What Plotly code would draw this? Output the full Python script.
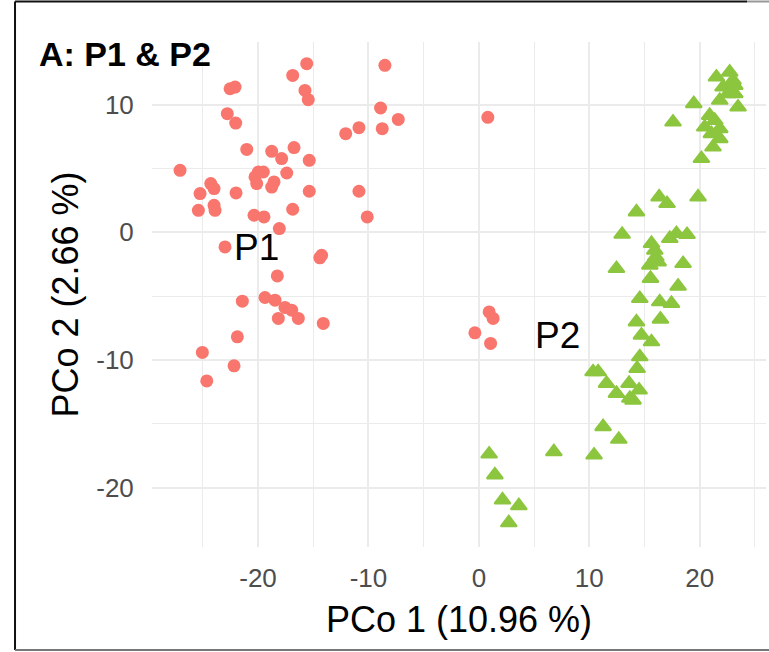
import plotly.graph_objects as go

# ---- data ----
p1_x = [-15.59, -16.86, -8.51, -22.53, -22.08, -15.75, -15.45, -22.78, -22.02, -8.90,
        -7.30, -8.75, -10.86, -12.06, -21.02, -18.76, -16.74, -17.86, -15.36, -27.06,
        -19.97, -20.27, -19.52, -17.40, -18.55, -18.76, -20.12, -24.28, -23.98, -25.25,
        -21.99, -15.36, -10.86, -25.40, -23.98, -23.89, -16.86, -20.36, -19.46, -10.11,
        -18.07, -22.99, -14.24, -14.40, -18.25, -21.42, -19.37, -18.46, -17.56, -16.95,
        -18.16, -16.35, -14.09, -21.87, -25.04, -22.17, -24.64, 0.93, 1.29, -0.36,
        1.06, 0.81]
p1_y = [13.20, 12.28, 13.07, 11.24, 11.37, 11.11, 10.38, 9.29, 8.55, 9.73,
        8.84, 8.11, 8.19, 7.72, 6.49, 6.34, 6.63, 5.77, 5.63, 4.85,
        4.72, 4.33, 4.72, 4.64, 3.94, 3.54, 3.81, 3.81, 3.42, 3.03,
        3.08, 3.21, 3.21, 1.72, 2.11, 1.72, 1.80, 1.33, 1.20, 1.20,
        0.29, -1.15, -1.80, -2.00, -3.42, -5.40, -5.11, -5.32, -5.89, -6.10,
        -6.75, -6.75, -7.14, -8.19, -9.41, -10.46, -11.64, -6.24, -6.75, -7.88,
        -8.71, 9.00]

p2_x = [0.93, 1.45, 2.14, 3.62, 2.71, 6.79, 10.43, 11.25, 12.67, 10.34,
        10.80, 11.56, 12.46, 13.67, 13.96, 13.60, 14.51, 14.33, 14.57, 14.72,
        15.63, 14.27, 16.44, 14.57, 16.38, 17.44, 18.04, 15.54, 12.46, 15.48,
        16.23, 18.49, 16.02, 15.93, 15.63, 17.29, 17.89, 18.85, 12.97, 14.27,
        16.32, 17.04, 19.85, 20.15, 21.20, 21.81, 21.06, 20.45, 21.81, 21.36,
        20.90, 17.58, 19.46, 21.81, 23.47, 22.56, 23.17, 22.11, 21.51, 22.71,
        23.01, 23.17]
p2_y = [-17.37, -19.01, -20.97, -21.42, -22.75, -17.19, -17.45, -15.23, -16.22, -10.93,
        -10.93, -11.84, -12.62, -13.01, -13.15, -11.84, -12.36, -10.67, -9.76, -8.06,
        -8.58, -7.02, -6.81, -5.19, -5.45, -5.58, -4.23, -3.62, -2.84, -2.58,
        -2.32, -2.45, -1.93, -1.41, -0.88, -0.49, -0.10, -0.18, -0.16, 1.59,
        2.76, 2.25, 2.76, 5.77, 6.67, 7.33, 7.72, 8.24, 8.11, 8.76,
        9.15, 8.63, 10.07, 10.33, 9.80, 10.85, 10.85, 11.37, 12.15, 12.54,
        11.89, 11.50]

group_labels = ["P1", "P2"]
label_x = [-20.1, 7.1]
label_y = [-1.2, -8.1]

x_ticks = [-20, -10, 0, 10, 20]
x_tick_text = ["-20", "-10", "0", "10", "20"]
y_ticks = [-20, -10, 0, 10]
y_tick_text = ["-20", "-10", "0", "10"]

title_text = "A: P1 & P2"
x_title = "PCo 1 (10.96 %)"
y_title = "PCo 2 (2.66 %)"

RED = "#F8766D"
GREEN = "#8CC63F"
FONT = "Liberation Sans, Arial, Helvetica, sans-serif"

fig = go.Figure()
fig.add_trace(go.Scatter(x=p1_x, y=p1_y, mode="markers", name="P1",
                         marker=dict(symbol="circle", size=13, color=RED,
                                     line=dict(width=0))))
fig.add_trace(go.Scatter(x=p2_x, y=p2_y, mode="markers", name="P2",
                         marker=dict(symbol="triangle-up", size=14, color=GREEN,
                                     line=dict(width=2, color=GREEN))))

for t, lx, ly in zip(group_labels, label_x, label_y):
    fig.add_annotation(x=lx, y=ly, text=t, showarrow=False,
                       font=dict(family=FONT, size=37, color="black"))

fig.add_annotation(xref="paper", yref="paper", x=-0.1873, y=0.976,
                   xanchor="left", yanchor="middle", text="<b>" + title_text + "</b>",
                   showarrow=False, font=dict(family=FONT, size=34, color="black"))

grid_major = "#EBEBEB"
fig.update_xaxes(range=[-29.6, 26.0], tickvals=x_ticks, ticktext=x_tick_text,
                 showline=False, zeroline=False,
                 gridcolor=grid_major, gridwidth=1.6,
                 minor=dict(tickvals=[-25, -15, -5, 5, 15, 25], showgrid=True,
                            gridcolor=grid_major, gridwidth=1),
                 ticks="outside", ticklen=8, tickcolor="rgba(0,0,0,0)",
                 tickfont=dict(family=FONT, size=26, color="#4D4D4D"),
                 title=dict(text=x_title, font=dict(family=FONT, size=36, color="black"),
                            standoff=14))
fig.update_yaxes(range=[-24.65, 14.9], tickvals=y_ticks, ticktext=y_tick_text,
                 showline=False, zeroline=False,
                 gridcolor=grid_major, gridwidth=1.6,
                 minor=dict(tickvals=[-15, -5, 5], showgrid=True,
                            gridcolor=grid_major, gridwidth=1),
                 ticks="outside", ticklen=12, tickcolor="rgba(0,0,0,0)",
                 tickfont=dict(family=FONT, size=26, color="#4D4D4D"),
                 title=dict(text=y_title, font=dict(family=FONT, size=36, color="black"),
                            standoff=6))

# screenshot frame
fig.add_shape(type="line", xref="paper", yref="paper", x0=-0.2231, x1=-0.2231,
              y0=-0.204, y1=1.0802, line=dict(color="#111111", width=2))
fig.add_shape(type="line", xref="paper", yref="paper", x0=-0.2231, x1=0.9691,
              y0=1.0802, y1=1.0802, line=dict(color="#111111", width=2))
fig.add_shape(type="line", xref="paper", yref="paper", x0=0.9691, x1=1.0049,
              y0=1.0802, y1=1.0802, line=dict(color="#999999", width=2))
fig.add_shape(type="line", xref="paper", yref="paper", x0=-0.2231, x1=1.0049,
              y0=-0.204, y1=-0.204, line=dict(color="#777777", width=2))

fig.update_layout(width=769, height=652, autosize=False,
                  margin=dict(l=152, r=3, t=42, b=105),
                  paper_bgcolor="white", plot_bgcolor="white",
                  showlegend=False)

fig.write_html("out.html", config={"displayModeBar": False},
               post_script="document.body.style.margin='0';document.body.style.overflow='hidden';")
